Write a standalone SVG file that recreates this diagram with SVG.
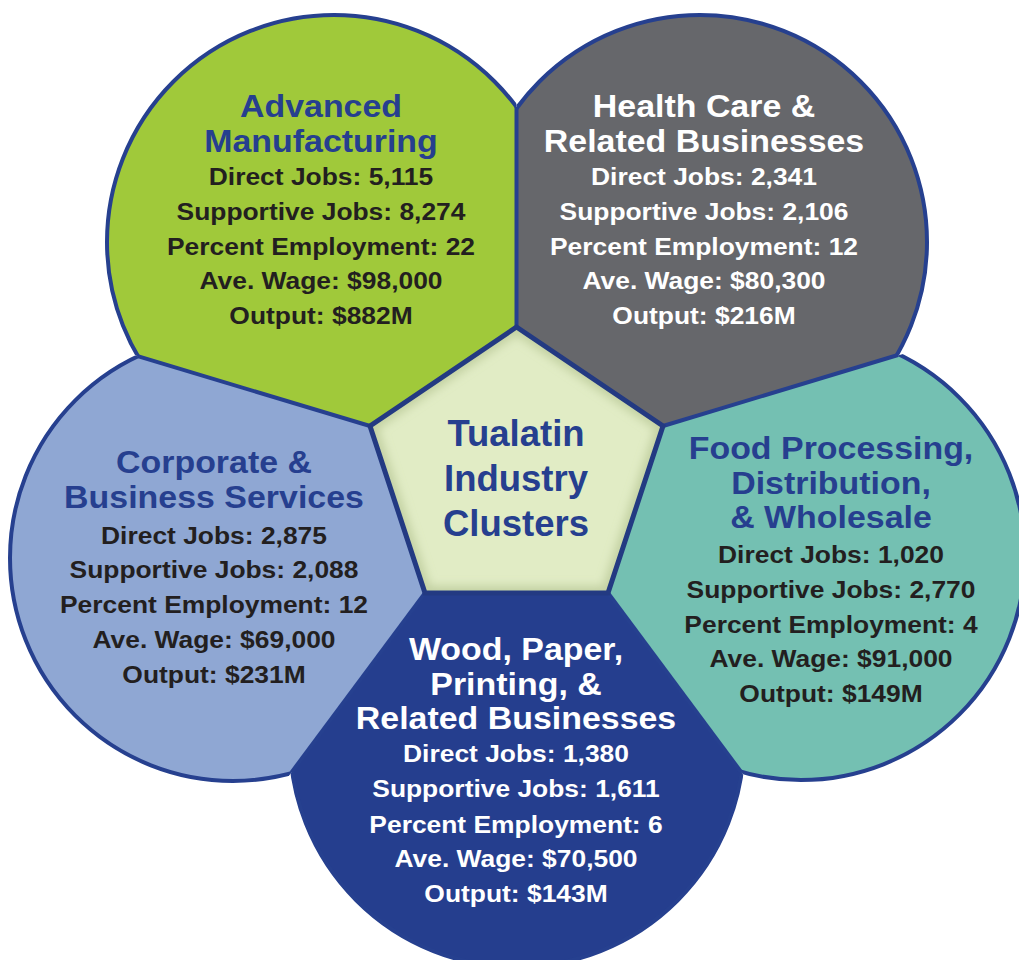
<svg xmlns="http://www.w3.org/2000/svg" width="1019" height="960" viewBox="0 0 1019 960">
<style>
  text { font-family: "Liberation Sans", Arial, Helvetica, sans-serif; font-weight: 700; text-anchor: middle; }
  .t { font-size: 32px; }
  .d { font-size: 24px; }
  .c { font-size: 36.5px; fill: #263f8f; }
  .blue { fill: #263f8f; }
  .wht { fill: #ffffff; }
  .blk { fill: #231f20; }
  .ring { stroke: #26408f; stroke-width: 4; }
  .div { stroke: #26408f; stroke-width: 4; fill: none; stroke-linecap: butt; }
</style>
<defs>
  <clipPath id="wAdv"><polygon points="516.5,470 516.5,-960 -948.5,30"/></clipPath>
  <clipPath id="wHlt"><polygon points="516.5,470 516.5,-960 1981.5,30"/></clipPath>
  <clipPath id="wCor"><polygon points="516.5,470 -948.5,30 -398.5,1700"/></clipPath>
  <clipPath id="wFood"><polygon points="516.5,470 1981.5,30 1431.5,1700"/></clipPath>
  <clipPath id="wWood"><polygon points="516.5,470 -398.5,1700 1431.5,1700"/></clipPath>
  <clipPath id="pent"><polygon points="516.5,327 663,426 608,593 425,593 370,426"/></clipPath>
  <filter id="soft" x="-20%" y="-20%" width="140%" height="140%"><feGaussianBlur stdDeviation="5"/></filter>
</defs>
<rect width="1019" height="960" fill="#ffffff"/>

<g id="node-advanced">
  <circle class="ring" cx="334" cy="242" r="227" fill="#a0c93a" clip-path="url(#wAdv)"/>
  <g transform="translate(321 0)">
    <g class="blue" transform="scale(1.06 1)">
      <text class="t" y="117">Advanced</text>
      <text class="t" y="152">Manufacturing</text>
    </g>
    <g class="blk" transform="scale(1.1 1)">
      <text class="d" y="185">Direct Jobs: 5,115</text>
      <text class="d" y="220">Supportive Jobs: 8,274</text>
      <text class="d" y="255">Percent Employment: 22</text>
      <text class="d" y="289">Ave. Wage: $98,000</text>
      <text class="d" y="324">Output: $882M</text>
    </g>
  </g>
</g>

<g id="node-health">
  <circle class="ring" cx="700" cy="242" r="227" fill="#66676b" clip-path="url(#wHlt)"/>
  <g transform="translate(704 0)">
    <g class="wht" transform="scale(1.06 1)">
      <text class="t" y="117">Health Care &amp;</text>
      <text class="t" y="152">Related Businesses</text>
    </g>
    <g class="wht" transform="scale(1.1 1)">
      <text class="d" y="185">Direct Jobs: 2,341</text>
      <text class="d" y="220">Supportive Jobs: 2,106</text>
      <text class="d" y="255">Percent Employment: 12</text>
      <text class="d" y="289">Ave. Wage: $80,300</text>
      <text class="d" y="324">Output: $216M</text>
    </g>
  </g>
</g>

<g id="node-corporate">
  <circle class="ring" cx="233" cy="558" r="223" fill="#8fa7d3" clip-path="url(#wCor)"/>
  <g transform="translate(214 0)">
    <g class="blue" transform="scale(1.06 1)">
      <text class="t" y="473">Corporate &amp;</text>
      <text class="t" y="508">Business Services</text>
    </g>
    <g class="blk" transform="scale(1.1 1)">
      <text class="d" y="544">Direct Jobs: 2,875</text>
      <text class="d" y="578">Supportive Jobs: 2,088</text>
      <text class="d" y="613">Percent Employment: 12</text>
      <text class="d" y="648">Ave. Wage: $69,000</text>
      <text class="d" y="683">Output: $231M</text>
    </g>
  </g>
</g>

<g id="node-food">
  <circle class="ring" cx="801" cy="556" r="224" fill="#74c0b2" clip-path="url(#wFood)"/>
  <g transform="translate(831 0)">
    <g class="blue" transform="scale(1.06 1)">
      <text class="t" y="459">Food Processing,</text>
      <text class="t" y="494">Distribution,</text>
      <text class="t" y="528">&amp; Wholesale</text>
    </g>
    <g class="blk" transform="scale(1.1 1)">
      <text class="d" y="563">Direct Jobs: 1,020</text>
      <text class="d" y="598">Supportive Jobs: 2,770</text>
      <text class="d" y="633">Percent Employment: 4</text>
      <text class="d" y="667">Ave. Wage: $91,000</text>
      <text class="d" y="702">Output: $149M</text>
    </g>
  </g>
</g>

<g id="node-wood">
  <circle class="ring" cx="517" cy="740" r="227" fill="#253e8e" clip-path="url(#wWood)"/>
  <g transform="translate(516 0)">
    <g class="wht" transform="scale(1.06 1)">
      <text class="t" y="660">Wood, Paper,</text>
      <text class="t" y="695">Printing, &amp;</text>
      <text class="t" y="729">Related Businesses</text>
    </g>
    <g class="wht" transform="scale(1.1 1)">
      <text class="d" y="762">Direct Jobs: 1,380</text>
      <text class="d" y="797">Supportive Jobs: 1,611</text>
      <text class="d" y="833">Percent Employment: 6</text>
      <text class="d" y="867">Ave. Wage: $70,500</text>
      <text class="d" y="902">Output: $143M</text>
    </g>
  </g>
</g>

<g id="connectors">
  <line class="div" x1="516.5" y1="327" x2="516.5" y2="107"/>
  <line class="div" x1="370" y1="426" x2="137.7" y2="356.2"/>
  <line class="div" x1="663" y1="426" x2="898" y2="355"/>
  <line class="div" x1="425" y1="593" x2="291.5" y2="772.4"/>
  <line class="div" x1="608" y1="593" x2="741.6" y2="772.7"/>
</g>

<g id="node-center">
  <polygon points="516.5,327 663,426 608,593 425,593 370,426" fill="#e1ecc5"/>
  <g clip-path="url(#pent)">
    <polygon points="516.5,327 663,426 608,593 425,593 370,426" fill="none" stroke="#a9b985" stroke-opacity="0.55" stroke-width="14" filter="url(#soft)"/>
  </g>
  <polygon points="516.5,327 663,426 608,593 425,593 370,426" fill="none" stroke="#233a82" stroke-width="5" stroke-linejoin="miter"/>
  <text class="c" x="516" y="446">Tualatin</text>
  <text class="c" x="516" y="491">Industry</text>
  <text class="c" x="516" y="536">Clusters</text>
</g>
</svg>
